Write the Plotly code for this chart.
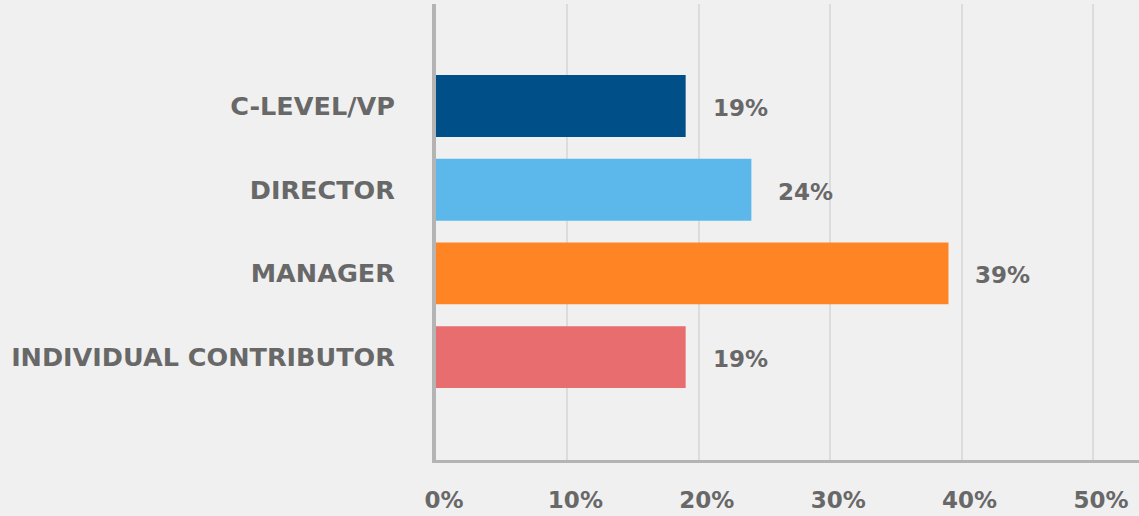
import plotly.graph_objects as go

# Survey respondents by role
roles = ["C-LEVEL/VP", "DIRECTOR", "MANAGER", "INDIVIDUAL CONTRIBUTOR"]
shares = [19, 24, 39, 19]
share_labels = ["19%", "24%", "39%", "19%"]
bar_colors = ["#004f88", "#5cb8eb", "#ff8424", "#e86d6e"]
x_ticks = [0, 10, 20, 30, 40, 50]
x_tick_labels = ["0%", "10%", "20%", "30%", "40%", "50%"]

BG = "#f0f0f0"
TEXT = "#686868"
FONT = "DejaVu Sans"
WEIGHT = 700

fig = go.Figure()
fig.add_trace(go.Bar(
    x=shares,
    y=list(range(len(roles))),
    orientation="h",
    marker=dict(color=bar_colors, line=dict(width=0)),
    width=0.74,
    hoverinfo="skip",
))

# value labels to the right of each bar
for i, (v, lab) in enumerate(zip(shares, share_labels)):
    fig.add_annotation(
        x=v, y=i, text=lab, showarrow=False,
        xanchor="left", yanchor="middle", xshift=25, yshift=-2,
        font=dict(family=FONT, size=23, color=TEXT, weight=WEIGHT),
    )

fig.update_layout(
    width=1139, height=516,
    margin=dict(l=436, r=0, t=4, b=56, autoexpand=False),
    paper_bgcolor=BG, plot_bgcolor=BG,
    showlegend=False,
    font=dict(family=FONT, color=TEXT, weight=WEIGHT),
)
fig.update_xaxes(
    range=[0, 53.5],
    tickvals=x_ticks, ticktext=x_tick_labels,
    showgrid=True, gridcolor="#dcdcdc", gridwidth=2,
    zeroline=False,
    showline=True, linecolor="#b4b4b4", linewidth=3,
    ticks="", ticklabelstandoff=17, ticklabelshift=8,
    tickfont=dict(family=FONT, size=23, color=TEXT, weight=WEIGHT),
    automargin=False,
    fixedrange=True,
)
fig.update_yaxes(
    range=[4.23, -1.22],
    tickvals=list(range(len(roles))), ticktext=roles,
    showgrid=False, zeroline=False,
    showline=True, linecolor="#b4b4b4", linewidth=4,
    ticks="", ticklabelstandoff=32,
    tickfont=dict(family=FONT, size=25.5, color=TEXT, weight=WEIGHT),
    automargin=False,
    fixedrange=True,
)

fig.write_html("out.html", config={"displayModeBar": False})
